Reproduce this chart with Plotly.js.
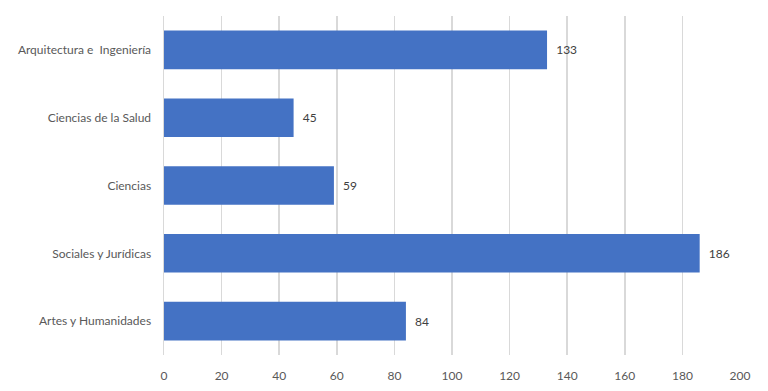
<!DOCTYPE html>
<html>
<head>
<meta charset="utf-8">
<script src="https://cdn.plot.ly/plotly-3.0.1.min.js"></script>
<style>html,body{margin:0;padding:0;background:#fff;}#chart{width:768px;height:391px;}</style>
</head>
<body>
<div id="chart"></div>
<script>
const categories = ["Artes y Humanidades", "Sociales y Jurídicas", "Ciencias", "Ciencias de la Salud", "Arquitectura e  Ingeniería"];
const values = [84, 186, 59, 45, 133];
const tickVals = [0, 20, 40, 60, 80, 100, 120, 140, 160, 180, 200];

const trace = {
  type: 'bar',
  orientation: 'h',
  y: categories,
  x: values,
  width: 0.57,
  marker: {color: '#4472C4', line: {width: 0}},
  text: values.map(v => '\u00A0\u00A0' + v),
  textposition: 'outside',
  cliponaxis: false,
  textfont: {family: 'Lato, sans-serif', size: 12, color: '#404040'},
  hoverinfo: 'none'
};

const layout = {
  width: 768, height: 391,
  margin: {l: 164, r: 28, t: 16, b: 36},
  paper_bgcolor: '#fff', plot_bgcolor: '#fff',
  showlegend: false,
  font: {family: 'Lato, sans-serif', size: 12, color: '#595959'},
  xaxis: {
    range: [0, 200],
    tickvals: tickVals,
    ticktext: tickVals.map(String),
    showgrid: true, gridcolor: '#d9d9d9', gridwidth: 1.5,
    zeroline: false, showline: false,
    ticks: '', ticklen: 0, ticklabelstandoff: 12,
    tickfont: {family: 'Lato, sans-serif', size: 12, color: '#595959'}
  },
  yaxis: {
    showgrid: false, zeroline: false, showline: true, linecolor: '#d9d9d9', linewidth: 1.5,
    ticks: '', ticklabelstandoff: 9,
    tickfont: {family: 'Lato, sans-serif', size: 12, color: '#595959'}
  },
  bargap: 0.43
};

Plotly.newPlot('chart', [trace], layout, {displayModeBar: false, staticPlot: true});
</script>
</body>
</html>
